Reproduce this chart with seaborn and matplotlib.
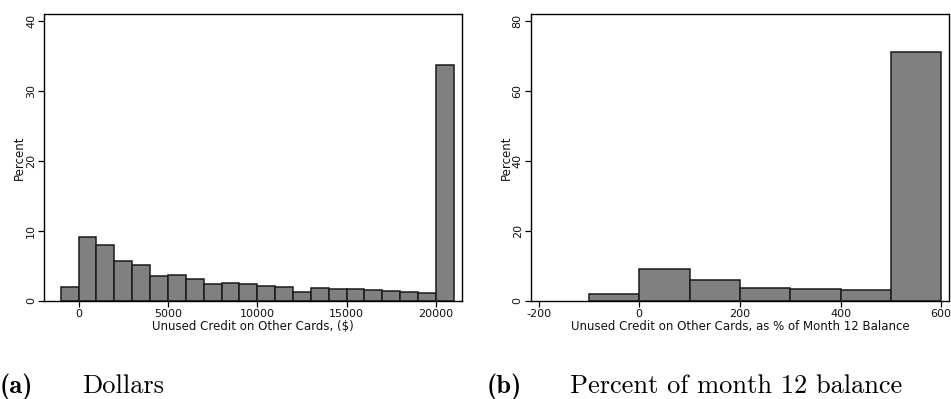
import matplotlib
matplotlib.use("Agg")
import matplotlib.pyplot as plt
import seaborn as sns
import numpy as np

# ---- data ----
dollar_edges = [-1000, 0, 1000, 2000, 3000, 4000, 5000, 6000, 7000, 8000, 9000,
                10000, 11000, 12000, 13000, 14000, 15000, 16000, 17000, 18000,
                19000, 20000, 21000]
dollar_pct = [2.0, 9.2, 8.0, 5.7, 5.15, 3.55, 3.7, 3.2, 2.45, 2.55, 2.45,
              2.15, 1.95, 1.35, 1.85, 1.7, 1.7, 1.55, 1.4, 1.25, 1.15, 33.7]
dollar_ticks = [0, 5000, 10000, 15000, 20000]
dollar_yticks = [0, 10, 20, 30, 40]

pctbal_edges = [-100, 0, 100, 200, 300, 400, 500, 600]
pctbal_pct = [1.9, 9.15, 5.9, 3.6, 3.3, 3.05, 71.3]
pctbal_ticks = [-200, 0, 200, 400, 600]
pctbal_yticks = [0, 20, 40, 60, 80]

xlabel_a = "Unused Credit on Other Cards, ($)"
xlabel_b = "Unused Credit on Other Cards, as % of Month 12 Balance"
ylabel = "Percent"

sns.set_theme(style="ticks")
plt.rcParams["font.family"] = ["DejaVu Sans"]
plt.rcParams["axes.unicode_minus"] = False
plt.rcParams["text.color"] = "black"

fig = plt.figure(figsize=(9.51, 3.99), dpi=100)
W, H = 951, 399


def add_ax(x0, x1, y0, y1):
    return fig.add_axes([x0 / W, 1 - y1 / H, (x1 - x0) / W, (y1 - y0) / H])


ax1 = add_ax(44.3, 461.7, 14.3, 301)
ax2 = add_ax(531, 948.7, 14.3, 301)


def draw(ax, edges, pct, xticks, yticks, xlim, ylim, xlabel):
    centers = [(a + b) / 2 for a, b in zip(edges[:-1], edges[1:])]
    sns.histplot(x=centers, weights=pct, bins=edges, ax=ax,
                 color="#808080", alpha=1.0, edgecolor="#1a1a1a",
                 linewidth=1.1)
    ax.set_xlim(*xlim)
    ax.set_ylim(*ylim)
    ax.set_xticks(xticks)
    ax.set_yticks(yticks)
    ax.tick_params(axis="both", direction="out", length=4, width=0.9,
                   color="black", labelsize=8, pad=2, labelcolor="#111111")
    for lab in ax.get_yticklabels():
        lab.set_rotation(90)
        lab.set_va("center")
    ax.set_xlabel(xlabel, fontsize=8.5, labelpad=0.5, color="#111111")
    ax.set_ylabel(ylabel, fontsize=8.5, labelpad=0, color="#111111")
    for s in ax.spines.values():
        s.set_visible(True)
        s.set_color("black")
        s.set_linewidth(1.0)


draw(ax1, dollar_edges, dollar_pct, dollar_ticks, dollar_yticks,
     (-1920, 21440), (0, 41), xlabel_a)
draw(ax2, pctbal_edges, pctbal_pct, pctbal_ticks, pctbal_yticks,
     (-215, 615), (0, 82), xlabel_b)

# captions
yb = 1 - 393 / H
cap = 19
fig.text(0 / W, yb, "(a)", family="cmb10", fontsize=cap, va="baseline",
         color="black")
fig.text(82 / W, yb, "Dollars", family="cmr10", fontsize=cap, va="baseline",
         color="black")
fig.text(487 / W, yb, "(b)", family="cmb10", fontsize=cap, va="baseline",
         color="black")
fig.text(570 / W, yb, "Percent of month 12 balance", family="cmr10",
         fontsize=cap, va="baseline", color="black")

fig.savefig("out.png", dpi=100)
